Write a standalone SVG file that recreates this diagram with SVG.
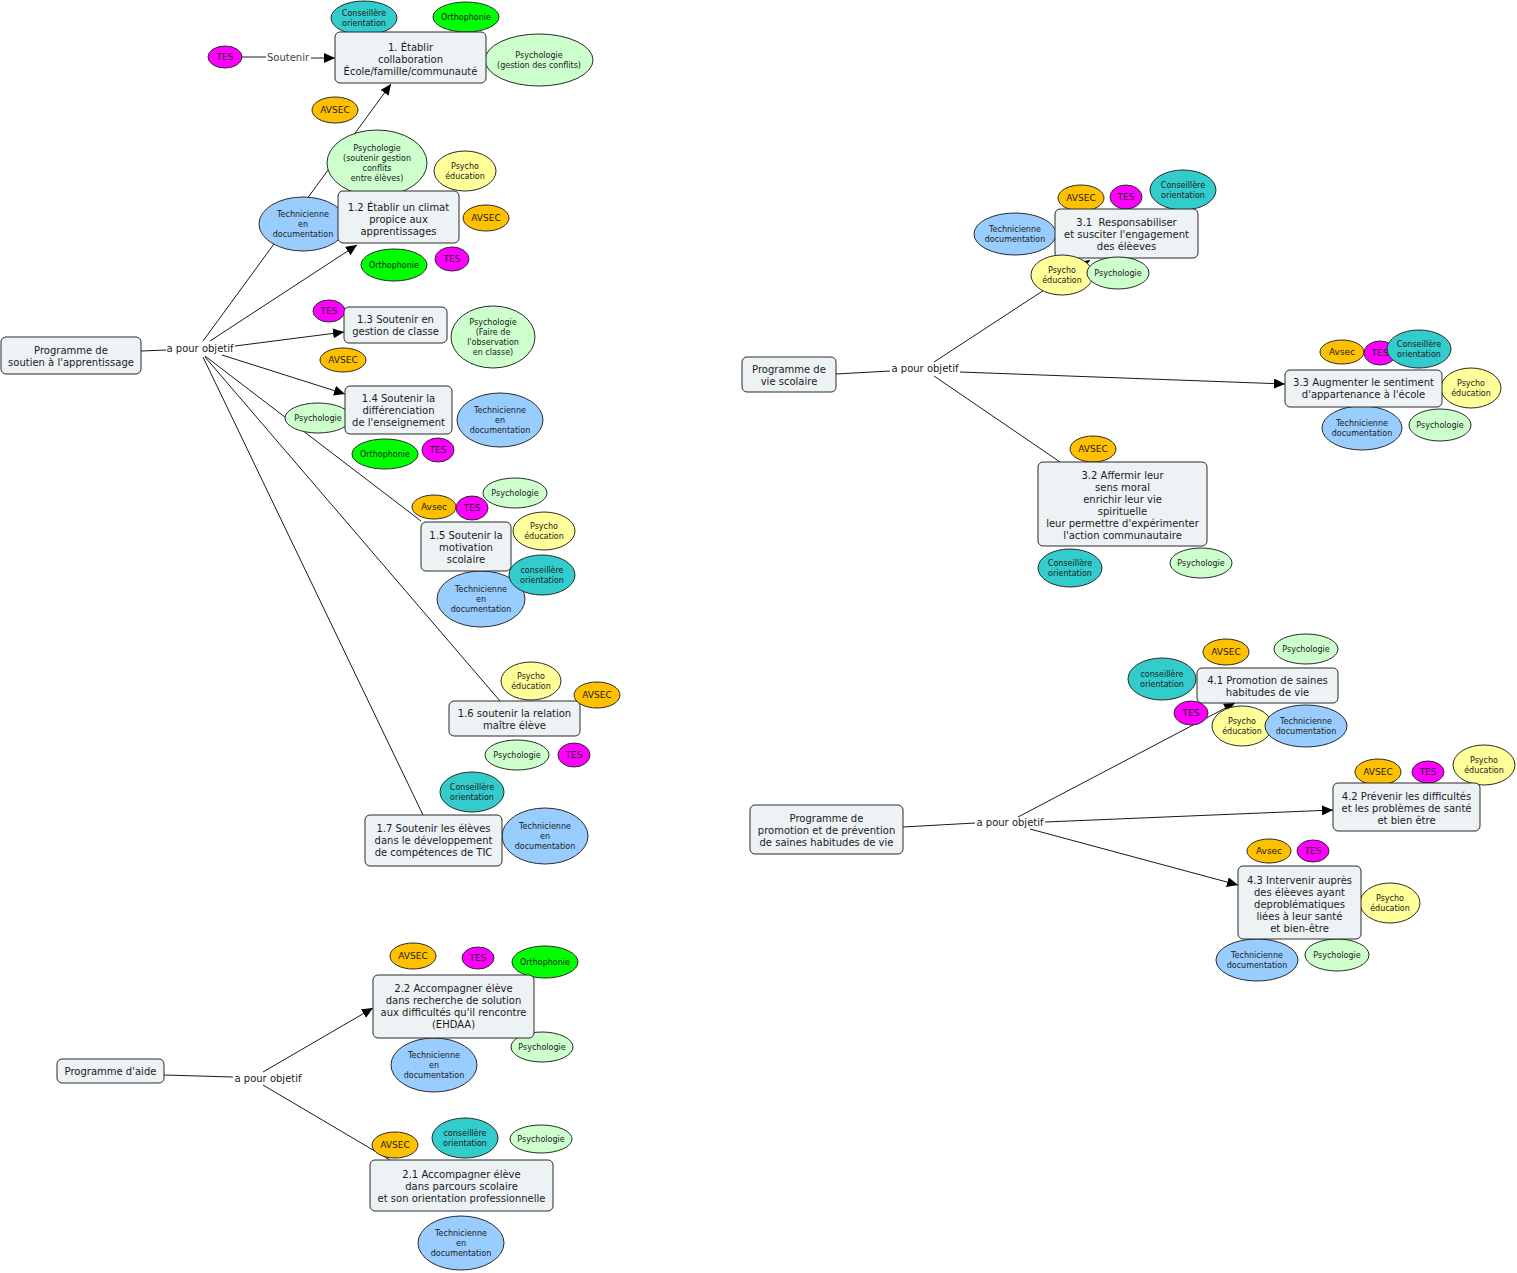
<svg xmlns="http://www.w3.org/2000/svg" width="1517" height="1273" viewBox="0 0 1517 1273">
<style>
.bg{fill:#ffffff}
.box{fill:#edf2f5;stroke:#2a2a2a;stroke-width:1}
.el{stroke:#2a2a2a;stroke-width:1}
.t{font-family:"DejaVu Sans",Verdana,sans-serif;font-size:10px;fill:#1a1a1a;text-anchor:middle}
.s{font-family:"DejaVu Sans",Verdana,sans-serif;font-size:8px;fill:#1a1a1a;text-anchor:middle}
.m{font-family:"DejaVu Sans",Verdana,sans-serif;font-size:9px;fill:#1a1a1a;text-anchor:middle}
.lbl{font-family:"DejaVu Sans",Verdana,sans-serif;font-size:10px;fill:#1a1a1a;text-anchor:middle}
.soft{fill:#444}
.ln{stroke:#1a1a1a;stroke-width:1;fill:none}
.arr{marker-end:url(#ah)}
.tes{fill:#ff00ff}
.avsec{fill:#ffc000}
.ortho{fill:#00ff00}
.cons{fill:#33cccc}
.psy{fill:#ccffcc}
.pe{fill:#ffff99}
.tech{fill:#99ccff}
</style>
<defs>
<marker id="ah" markerUnits="userSpaceOnUse" markerWidth="11" markerHeight="10" refX="11" refY="5" orient="auto">
<path d="M0,0 L11,5 L0,10 z" fill="#000"/>
</marker>
</defs>
<rect class="bg" x="0" y="0" width="1517" height="1273"/>

<g id="connectors">
<!-- map 1 -->
<line class="ln" x1="141" y1="351" x2="166" y2="350"/>
<line class="ln" x1="242" y1="57" x2="266" y2="57"/>
<line class="ln arr" x1="311" y1="58" x2="335" y2="58"/>
<line class="ln arr" x1="203" y1="341" x2="391" y2="84"/>
<line class="ln arr" x1="210" y1="341" x2="357" y2="245"/>
<line class="ln arr" x1="235" y1="346" x2="344" y2="332"/>
<line class="ln arr" x1="222" y1="355" x2="345" y2="394"/>
<line class="ln" x1="205" y1="356" x2="421" y2="521"/>
<line class="ln" x1="205" y1="357" x2="500" y2="701"/>
<line class="ln" x1="203" y1="357" x2="423" y2="815"/>
<!-- map 2 -->
<line class="ln" x1="164" y1="1075" x2="233" y2="1077"/>
<line class="ln arr" x1="263" y1="1072" x2="373" y2="1008"/>
<line class="ln" x1="263" y1="1085" x2="390" y2="1160"/>
<!-- map 3 -->
<line class="ln" x1="836" y1="374" x2="890" y2="371"/>
<line class="ln arr" x1="934" y1="362" x2="1090" y2="260"/>
<line class="ln arr" x1="960" y1="372" x2="1285" y2="384"/>
<line class="ln" x1="934" y1="376" x2="1060" y2="462"/>
<!-- map 4 -->
<line class="ln" x1="903" y1="827" x2="975" y2="823"/>
<line class="ln arr" x1="1018" y1="817" x2="1235" y2="703"/>
<line class="ln arr" x1="1045" y1="822" x2="1333" y2="810"/>
<line class="ln arr" x1="1030" y1="829" x2="1238" y2="885"/>
<!-- labels -->
<text class="lbl" x="200" y="352">a pour objetif</text>
<text class="lbl soft" x="288" y="61">Soutenir</text>
<text class="lbl" x="268" y="1082">a pour objetif</text>
<text class="lbl" x="925" y="372">a pour objetif</text>
<text class="lbl" x="1010" y="826">a pour objetif</text>
</g>

<!-- ===== Map 1 ellipses ===== -->
<g id="e-tes-sout"><ellipse class="el tes" cx="225" cy="57" rx="17" ry="11"/><text class="m" x="225" y="60">TES</text></g>
<g id="e1-cons"><ellipse class="el cons" cx="364" cy="18" rx="33" ry="17"/><text class="s" x="364" y="16">Conseillère</text><text class="s" x="364" y="26">orientation</text></g>
<g id="e1-ortho"><ellipse class="el ortho" cx="466" cy="17" rx="33" ry="15"/><text class="s" x="466" y="20">Orthophonie</text></g>
<g id="e1-psy"><ellipse class="el psy" cx="539" cy="60" rx="54" ry="26"/><text class="s" x="539" y="58">Psychologie</text><text class="s" x="539" y="68">(gestion des conflits)</text></g>
<g id="e1-avsec"><ellipse class="el avsec" cx="335" cy="110" rx="23" ry="13"/><text class="m" x="335" y="113">AVSEC</text></g>

<g id="e12-psy"><ellipse class="el psy" cx="377" cy="163" rx="50" ry="33"/><text class="s" x="377" y="151">Psychologie</text><text class="s" x="377" y="161">(soutenir gestion</text><text class="s" x="377" y="171">conflits</text><text class="s" x="377" y="181">entre élèves)</text></g>
<g id="e12-pe"><ellipse class="el pe" cx="465" cy="171" rx="31" ry="20"/><text class="s" x="465" y="169">Psycho</text><text class="s" x="465" y="179">éducation</text></g>
<g id="e12-tech"><ellipse class="el tech" cx="303" cy="224" rx="44" ry="27"/><text class="s" x="303" y="217">Technicienne</text><text class="s" x="303" y="227">en</text><text class="s" x="303" y="237">documentation</text></g>
<g id="e12-avsec"><ellipse class="el avsec" cx="486" cy="218" rx="23" ry="13"/><text class="m" x="486" y="221">AVSEC</text></g>
<g id="e12-ortho"><ellipse class="el ortho" cx="394" cy="265" rx="33" ry="16"/><text class="s" x="394" y="268">Orthophonie</text></g>
<g id="e12-tes"><ellipse class="el tes" cx="452" cy="259" rx="17" ry="12"/><text class="m" x="452" y="262">TES</text></g>

<g id="e13-tes"><ellipse class="el tes" cx="329" cy="311" rx="16" ry="11"/><text class="m" x="329" y="314">TES</text></g>
<g id="e13-psy"><ellipse class="el psy" cx="493" cy="337" rx="42" ry="31"/><text class="s" x="493" y="325">Psychologie</text><text class="s" x="493" y="335">(Faire de</text><text class="s" x="493" y="345">l'observation</text><text class="s" x="493" y="355">en classe)</text></g>
<g id="e13-avsec"><ellipse class="el avsec" cx="343" cy="360" rx="23" ry="12"/><text class="m" x="343" y="363">AVSEC</text></g>

<g id="e14-psy"><ellipse class="el psy" cx="318" cy="418" rx="33" ry="15"/><text class="s" x="318" y="421">Psychologie</text></g>
<g id="e14-tech"><ellipse class="el tech" cx="500" cy="420" rx="43" ry="27"/><text class="s" x="500" y="413">Technicienne</text><text class="s" x="500" y="423">en</text><text class="s" x="500" y="433">documentation</text></g>
<g id="e14-ortho"><ellipse class="el ortho" cx="385" cy="454" rx="33" ry="15"/><text class="s" x="385" y="457">Orthophonie</text></g>
<g id="e14-tes"><ellipse class="el tes" cx="438" cy="450" rx="16" ry="12"/><text class="m" x="438" y="453">TES</text></g>

<g id="e15-avsec"><ellipse class="el avsec" cx="434" cy="507" rx="22" ry="12"/><text class="m" x="434" y="510">Avsec</text></g>
<g id="e15-tes"><ellipse class="el tes" cx="472" cy="508" rx="16" ry="12"/><text class="m" x="472" y="511">TES</text></g>
<g id="e15-psy"><ellipse class="el psy" cx="515" cy="493" rx="32" ry="15"/><text class="s" x="515" y="496">Psychologie</text></g>
<g id="e15-pe"><ellipse class="el pe" cx="544" cy="531" rx="31" ry="19"/><text class="s" x="544" y="529">Psycho</text><text class="s" x="544" y="539">éducation</text></g>
<g id="e15-tech"><ellipse class="el tech" cx="481" cy="599" rx="44" ry="28"/><text class="s" x="481" y="592">Technicienne</text><text class="s" x="481" y="602">en</text><text class="s" x="481" y="612">documentation</text></g>
<g id="e15-cons"><ellipse class="el cons" cx="542" cy="575" rx="33" ry="20"/><text class="s" x="542" y="573">conseillère</text><text class="s" x="542" y="583">orientation</text></g>

<g id="e16-pe"><ellipse class="el pe" cx="531" cy="681" rx="30" ry="19"/><text class="s" x="531" y="679">Psycho</text><text class="s" x="531" y="689">éducation</text></g>
<g id="e16-avsec"><ellipse class="el avsec" cx="597" cy="695" rx="23" ry="13"/><text class="m" x="597" y="698">AVSEC</text></g>
<g id="e16-psy"><ellipse class="el psy" cx="517" cy="755" rx="32" ry="15"/><text class="s" x="517" y="758">Psychologie</text></g>
<g id="e16-tes"><ellipse class="el tes" cx="574" cy="755" rx="16" ry="12"/><text class="m" x="574" y="758">TES</text></g>

<g id="e17-cons"><ellipse class="el cons" cx="472" cy="792" rx="32" ry="20"/><text class="s" x="472" y="790">Conseillère</text><text class="s" x="472" y="800">orientation</text></g>
<g id="e17-tech"><ellipse class="el tech" cx="545" cy="836" rx="43" ry="28"/><text class="s" x="545" y="829">Technicienne</text><text class="s" x="545" y="839">en</text><text class="s" x="545" y="849">documentation</text></g>

<!-- ===== Map 1 boxes ===== -->
<g id="n-prog-soutien"><rect class="box" x="1" y="337" width="140" height="37" rx="5"/><text class="t" x="71" y="353.5">Programme de</text><text class="t" x="71" y="365.5">soutien à l'apprentissage</text></g>
<g id="n1"><rect class="box" x="335" y="32" width="151" height="51" rx="5"/><text class="t" x="410.5" y="50.5">1. Établir</text><text class="t" x="410.5" y="62.5">collaboration</text><text class="t" x="410.5" y="74.5">École/famille/communauté</text></g>
<g id="n12"><rect class="box" x="338" y="191" width="121" height="52" rx="5"/><text class="t" x="398.5" y="210.5">1.2 Établir un climat</text><text class="t" x="398.5" y="222.5">propice aux</text><text class="t" x="398.5" y="234.5">apprentissages</text></g>
<g id="n13"><rect class="box" x="344" y="307" width="103" height="36" rx="5"/><text class="t" x="395.5" y="322.5">1.3 Soutenir en</text><text class="t" x="395.5" y="334.5">gestion de classe</text></g>
<g id="n14"><rect class="box" x="345" y="386" width="107" height="48" rx="5"/><text class="t" x="398.5" y="401.5">1.4 Soutenir la</text><text class="t" x="398.5" y="413.5">différenciation</text><text class="t" x="398.5" y="425.5">de l'enseignement</text></g>
<g id="n15"><rect class="box" x="421" y="522" width="90" height="49" rx="5"/><text class="t" x="466" y="538.5">1.5 Soutenir la</text><text class="t" x="466" y="550.5">motivation</text><text class="t" x="466" y="562.5">scolaire</text></g>
<g id="n16"><rect class="box" x="449" y="701" width="131" height="35" rx="5"/><text class="t" x="514.5" y="716.5">1.6 soutenir la relation</text><text class="t" x="514.5" y="728.5">maître élève</text></g>
<g id="n17"><rect class="box" x="365" y="815" width="137" height="51" rx="5"/><text class="t" x="433.5" y="831.5">1.7 Soutenir les élèves</text><text class="t" x="433.5" y="843.5">dans le développement</text><text class="t" x="433.5" y="855.5">de compétences de TIC</text></g>

<!-- ===== Map 2 ===== -->
<g id="e22-avsec"><ellipse class="el avsec" cx="413" cy="956" rx="23" ry="13"/><text class="m" x="413" y="959">AVSEC</text></g>
<g id="e22-tes"><ellipse class="el tes" cx="478" cy="958" rx="16" ry="11"/><text class="m" x="478" y="961">TES</text></g>
<g id="e22-ortho"><ellipse class="el ortho" cx="545" cy="962" rx="33" ry="16"/><text class="s" x="545" y="965">Orthophonie</text></g>
<g id="e22-tech"><ellipse class="el tech" cx="434" cy="1065" rx="43" ry="27"/><text class="s" x="434" y="1058">Technicienne</text><text class="s" x="434" y="1068">en</text><text class="s" x="434" y="1078">documentation</text></g>
<g id="e22-psy"><ellipse class="el psy" cx="542" cy="1047" rx="31" ry="15"/><text class="s" x="542" y="1050">Psychologie</text></g>
<g id="e21-avsec"><ellipse class="el avsec" cx="395" cy="1145" rx="23" ry="13"/><text class="m" x="395" y="1148">AVSEC</text></g>
<g id="e21-cons"><ellipse class="el cons" cx="465" cy="1138" rx="33" ry="20"/><text class="s" x="465" y="1136">conseillère</text><text class="s" x="465" y="1146">orientation</text></g>
<g id="e21-psy"><ellipse class="el psy" cx="541" cy="1139" rx="31" ry="14"/><text class="s" x="541" y="1142">Psychologie</text></g>
<g id="e21-tech"><ellipse class="el tech" cx="461" cy="1243" rx="43" ry="27"/><text class="s" x="461" y="1236">Technicienne</text><text class="s" x="461" y="1246">en</text><text class="s" x="461" y="1256">documentation</text></g>

<g id="n-prog-aide"><rect class="box" x="57" y="1059" width="107" height="24" rx="5"/><text class="t" x="110.5" y="1074.5">Programme d'aide</text></g>
<g id="n22"><rect class="box" x="373" y="975" width="161" height="63" rx="5"/><text class="t" x="453.5" y="991.5">2.2 Accompagner élève</text><text class="t" x="453.5" y="1003.5">dans recherche de solution</text><text class="t" x="453.5" y="1015.5">aux difficultés qu'il rencontre</text><text class="t" x="453.5" y="1027.5">(EHDAA)</text></g>
<g id="n21"><rect class="box" x="370" y="1160" width="183" height="51" rx="5"/><text class="t" x="461.5" y="1177.5">2.1 Accompagner élève</text><text class="t" x="461.5" y="1189.5">dans parcours scolaire</text><text class="t" x="461.5" y="1201.5">et son orientation professionnelle</text></g>

<!-- ===== Map 3 ===== -->
<g id="e31-avsec"><ellipse class="el avsec" cx="1081" cy="198" rx="23" ry="13"/><text class="m" x="1081" y="201">AVSEC</text></g>
<g id="e31-tes"><ellipse class="el tes" cx="1126" cy="197" rx="16" ry="12"/><text class="m" x="1126" y="200">TES</text></g>
<g id="e31-cons"><ellipse class="el cons" cx="1183" cy="190" rx="33" ry="20"/><text class="s" x="1183" y="188">Conseillère</text><text class="s" x="1183" y="198">orientation</text></g>
<g id="e31-tech"><ellipse class="el tech" cx="1015" cy="234" rx="41" ry="21"/><text class="s" x="1015" y="232">Technicienne</text><text class="s" x="1015" y="242">documentation</text></g>

<g id="n-prog-vie"><rect class="box" x="742" y="357" width="94" height="35" rx="5"/><text class="t" x="789" y="372.5">Programme de</text><text class="t" x="789" y="384.5">vie scolaire</text></g>
<g id="n31"><rect class="box" x="1055" y="209" width="143" height="49" rx="5"/><text class="t" x="1126.5" y="225.5" xml:space="preserve">3.1  Responsabiliser</text><text class="t" x="1126.5" y="237.5">et susciter l'engagement</text><text class="t" x="1126.5" y="249.5">des élèeves</text></g>
<g id="e31-pe"><ellipse class="el pe" cx="1062" cy="275" rx="31" ry="20"/><text class="s" x="1062" y="273">Psycho</text><text class="s" x="1062" y="283">éducation</text></g>
<g id="e31-psy"><ellipse class="el psy" cx="1118" cy="273" rx="31" ry="16"/><text class="s" x="1118" y="276">Psychologie</text></g>

<g id="e33-avsec"><ellipse class="el avsec" cx="1342" cy="352" rx="22" ry="12"/><text class="m" x="1342" y="355">Avsec</text></g>
<g id="e33-tes"><ellipse class="el tes" cx="1380" cy="353" rx="16" ry="12"/><text class="m" x="1380" y="356">TES</text></g>
<g id="e33-cons"><ellipse class="el cons" cx="1419" cy="349" rx="32" ry="19"/><text class="s" x="1419" y="347">Conseillère</text><text class="s" x="1419" y="357">orientation</text></g>
<g id="e33-pe"><ellipse class="el pe" cx="1471" cy="388" rx="30" ry="20"/><text class="s" x="1471" y="386">Psycho</text><text class="s" x="1471" y="396">éducation</text></g>
<g id="e33-tech"><ellipse class="el tech" cx="1362" cy="428" rx="40" ry="22"/><text class="s" x="1362" y="426">Technicienne</text><text class="s" x="1362" y="436">documentation</text></g>
<g id="e33-psy"><ellipse class="el psy" cx="1440" cy="425" rx="31" ry="16"/><text class="s" x="1440" y="428">Psychologie</text></g>
<g id="n33"><rect class="box" x="1285" y="370" width="157" height="37" rx="5"/><text class="t" x="1363.5" y="385.5">3.3 Augmenter le sentiment</text><text class="t" x="1363.5" y="397.5">d'appartenance à l'école</text></g>

<g id="e32-avsec"><ellipse class="el avsec" cx="1093" cy="449" rx="23" ry="13"/><text class="m" x="1093" y="452">AVSEC</text></g>
<g id="e32-cons"><ellipse class="el cons" cx="1070" cy="568" rx="32" ry="19"/><text class="s" x="1070" y="566">Conseillère</text><text class="s" x="1070" y="576">orientation</text></g>
<g id="e32-psy"><ellipse class="el psy" cx="1201" cy="563" rx="31" ry="15"/><text class="s" x="1201" y="566">Psychologie</text></g>
<g id="n32"><rect class="box" x="1038" y="462" width="169" height="84" rx="5"/><text class="t" x="1122.5" y="478.5">3.2 Affermir leur</text><text class="t" x="1122.5" y="490.5">sens moral</text><text class="t" x="1122.5" y="502.5">enrichir leur vie</text><text class="t" x="1122.5" y="514.5">spirituelle</text><text class="t" x="1122.5" y="526.5">leur permettre d'expérimenter</text><text class="t" x="1122.5" y="538.5">l'action communautaire</text></g>

<!-- ===== Map 4 ===== -->
<g id="e41-avsec"><ellipse class="el avsec" cx="1226" cy="652" rx="23" ry="13"/><text class="m" x="1226" y="655">AVSEC</text></g>
<g id="e41-psy"><ellipse class="el psy" cx="1306" cy="649" rx="32" ry="15"/><text class="s" x="1306" y="652">Psychologie</text></g>
<g id="e41-cons"><ellipse class="el cons" cx="1162" cy="679" rx="34" ry="21"/><text class="s" x="1162" y="677">conseillère</text><text class="s" x="1162" y="687">orientation</text></g>
<g id="n-prog-promo"><rect class="box" x="750" y="805" width="153" height="49" rx="5"/><text class="t" x="826.5" y="821.5">Programme de</text><text class="t" x="826.5" y="833.5">promotion et de prévention</text><text class="t" x="826.5" y="845.5">de saines habitudes de vie</text></g>
<g id="n41"><rect class="box" x="1197" y="668" width="141" height="35" rx="5"/><text class="t" x="1267.5" y="683.5">4.1 Promotion de saines</text><text class="t" x="1267.5" y="695.5">habitudes de vie</text></g>
<g id="e41-tes"><ellipse class="el tes" cx="1191" cy="713" rx="17" ry="12"/><text class="m" x="1191" y="716">TES</text></g>
<g id="e41-pe"><ellipse class="el pe" cx="1242" cy="726" rx="30" ry="20"/><text class="s" x="1242" y="724">Psycho</text><text class="s" x="1242" y="734">éducation</text></g>
<g id="e41-tech"><ellipse class="el tech" cx="1306" cy="726" rx="41" ry="21"/><text class="s" x="1306" y="724">Technicienne</text><text class="s" x="1306" y="734">documentation</text></g>

<g id="e42-avsec"><ellipse class="el avsec" cx="1378" cy="772" rx="23" ry="13"/><text class="m" x="1378" y="775">AVSEC</text></g>
<g id="e42-tes"><ellipse class="el tes" cx="1428" cy="772" rx="16" ry="11"/><text class="m" x="1428" y="775">TES</text></g>
<g id="e42-pe"><ellipse class="el pe" cx="1484" cy="765" rx="31" ry="20"/><text class="s" x="1484" y="763">Psycho</text><text class="s" x="1484" y="773">éducation</text></g>
<g id="n42"><rect class="box" x="1333" y="783" width="147" height="48" rx="5"/><text class="t" x="1406.5" y="799.5">4.2 Prévenir les difficultés</text><text class="t" x="1406.5" y="811.5">et les problèmes de santé</text><text class="t" x="1406.5" y="823.5">et bien être</text></g>

<g id="e43-avsec"><ellipse class="el avsec" cx="1269" cy="851" rx="22" ry="12"/><text class="m" x="1269" y="854">Avsec</text></g>
<g id="e43-tes"><ellipse class="el tes" cx="1313" cy="851" rx="16" ry="11"/><text class="m" x="1313" y="854">TES</text></g>
<g id="e43-pe"><ellipse class="el pe" cx="1390" cy="903" rx="30" ry="20"/><text class="s" x="1390" y="901">Psycho</text><text class="s" x="1390" y="911">éducation</text></g>
<g id="e43-tech"><ellipse class="el tech" cx="1257" cy="960" rx="41" ry="21"/><text class="s" x="1257" y="958">Technicienne</text><text class="s" x="1257" y="968">documentation</text></g>
<g id="e43-psy"><ellipse class="el psy" cx="1337" cy="955" rx="32" ry="16"/><text class="s" x="1337" y="958">Psychologie</text></g>
<g id="n43"><rect class="box" x="1238" y="866" width="123" height="73" rx="5"/><text class="t" x="1299.5" y="883.5">4.3 Intervenir auprès</text><text class="t" x="1299.5" y="895.5">des élèeves ayant</text><text class="t" x="1299.5" y="907.5">deproblématiques</text><text class="t" x="1299.5" y="919.5">liées à leur santé</text><text class="t" x="1299.5" y="931.5">et bien-être</text></g>
</svg>
